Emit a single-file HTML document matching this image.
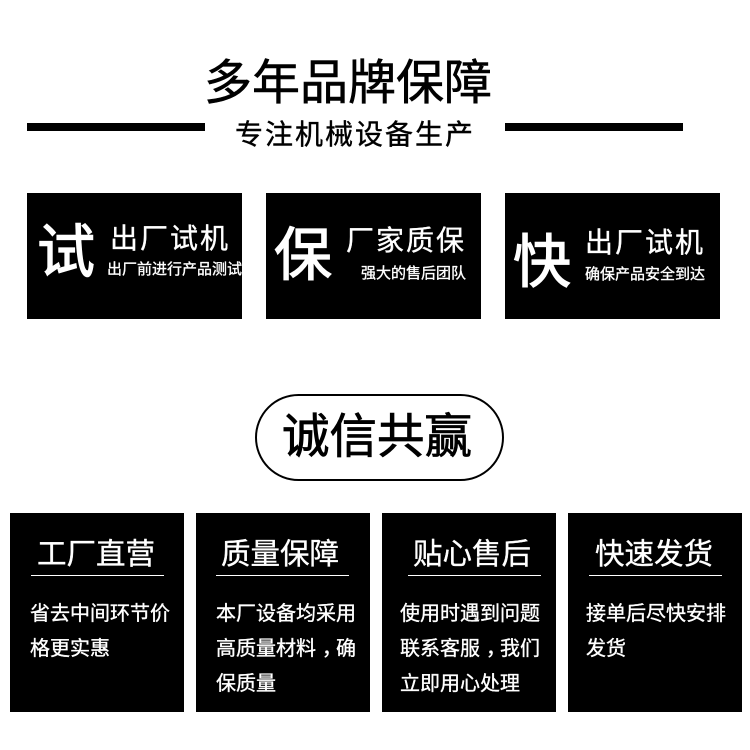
<!DOCTYPE html>
<html lang="zh"><head><meta charset="utf-8"><style>
html,body{margin:0;padding:0;background:#fff}
#p{position:relative;width:750px;height:750px;overflow:hidden;background:#fff;font-family:"Liberation Sans","Noto Sans CJK SC",sans-serif}
#p div{position:absolute}
.b{background:#000}
.t{white-space:nowrap;color:#fff;line-height:1;-webkit-text-stroke:.35px #fff}
.k{color:#000;-webkit-text-stroke:.6px #000}
.c{position:relative;left:6px}
</style></head><body><div id="p">
<div class="t k" style="left:204px;top:60px;font-size:48px;letter-spacing:0">多年品牌保障</div>
<div class="b" style="left:27px;top:123px;width:178px;height:8px"></div>
<div class="b" style="left:505px;top:123px;width:178px;height:8px"></div>
<div class="t k" style="left:235px;top:121px;font-size:28px;letter-spacing:2px;-webkit-text-stroke:.4px #000">专注机械设备生产</div>

<div class="b" style="left:27px;top:193px;width:215px;height:126px"></div>
<div class="b" style="left:266px;top:193px;width:215px;height:126px"></div>
<div class="b" style="left:505px;top:193px;width:215px;height:126px"></div>

<div class="t" style="left:37px;top:224px;font-size:58px;-webkit-text-stroke:1.2px #fff">试</div>
<div class="t" style="left:110px;top:225px;font-size:28px;letter-spacing:2px">出厂试机</div>
<div class="t" style="left:107px;top:262px;font-size:15px">出厂前进行产品测试</div>

<div class="t" style="left:274px;top:227px;font-size:58px;-webkit-text-stroke:1.2px #fff">保</div>
<div class="t" style="left:346px;top:227px;font-size:28px;letter-spacing:2px">厂家质保</div>
<div class="t" style="left:361px;top:266px;font-size:15px">强大的售后团队</div>

<div class="t" style="left:513px;top:234px;font-size:58px;-webkit-text-stroke:1.2px #fff">快</div>
<div class="t" style="left:585px;top:229px;font-size:28px;letter-spacing:2px">出厂试机</div>
<div class="t" style="left:585px;top:267px;font-size:15px">确保产品安全到达</div>

<div style="left:255px;top:394px;width:245px;height:83px;border:2px solid #000;border-radius:44px;background:#fff"></div>
<div class="t k" style="left:282px;top:414px;font-size:47.5px;-webkit-text-stroke:.8px #000">诚信共赢</div>

<div class="b" style="left:10px;top:513px;width:174px;height:199px"></div>
<div class="b" style="left:196px;top:513px;width:174px;height:199px"></div>
<div class="b" style="left:382px;top:513px;width:174px;height:199px"></div>
<div class="b" style="left:568px;top:513px;width:174px;height:199px"></div>

<div style="left:31px;top:575px;width:133px;height:1px;background:#fff"></div>
<div style="left:216px;top:575px;width:133px;height:1px;background:#fff"></div>
<div style="left:408px;top:575px;width:133px;height:1px;background:#fff"></div>
<div style="left:589px;top:575px;width:133px;height:1px;background:#fff"></div>

<div class="t" style="left:37px;top:540px;font-size:29.5px">工厂直营</div>
<div class="t" style="left:221px;top:540px;font-size:29.5px">质量保障</div>
<div class="t" style="left:413px;top:540px;font-size:29.5px">贴心售后</div>
<div class="t" style="left:595px;top:540px;font-size:29.5px">快速发货</div>

<div class="t" style="left:30px;top:604px;font-size:20px">省去中间环节价</div>
<div class="t" style="left:30px;top:639px;font-size:20px">格更实惠</div>

<div class="t" style="left:216px;top:604px;font-size:20px">本厂设备均采用</div>
<div class="t" style="left:216px;top:639px;font-size:20px">高质量材料<span class="c">，</span>确</div>
<div class="t" style="left:216px;top:674px;font-size:20px">保质量</div>

<div class="t" style="left:400px;top:604px;font-size:20px">使用时遇到问题</div>
<div class="t" style="left:400px;top:639px;font-size:20px">联系客服<span class="c">，</span>我们</div>
<div class="t" style="left:400px;top:674px;font-size:20px">立即用心处理</div>

<div class="t" style="left:586px;top:604px;font-size:20px">接单后尽快安排</div>
<div class="t" style="left:586px;top:639px;font-size:20px">发货</div>
</div></body></html>
